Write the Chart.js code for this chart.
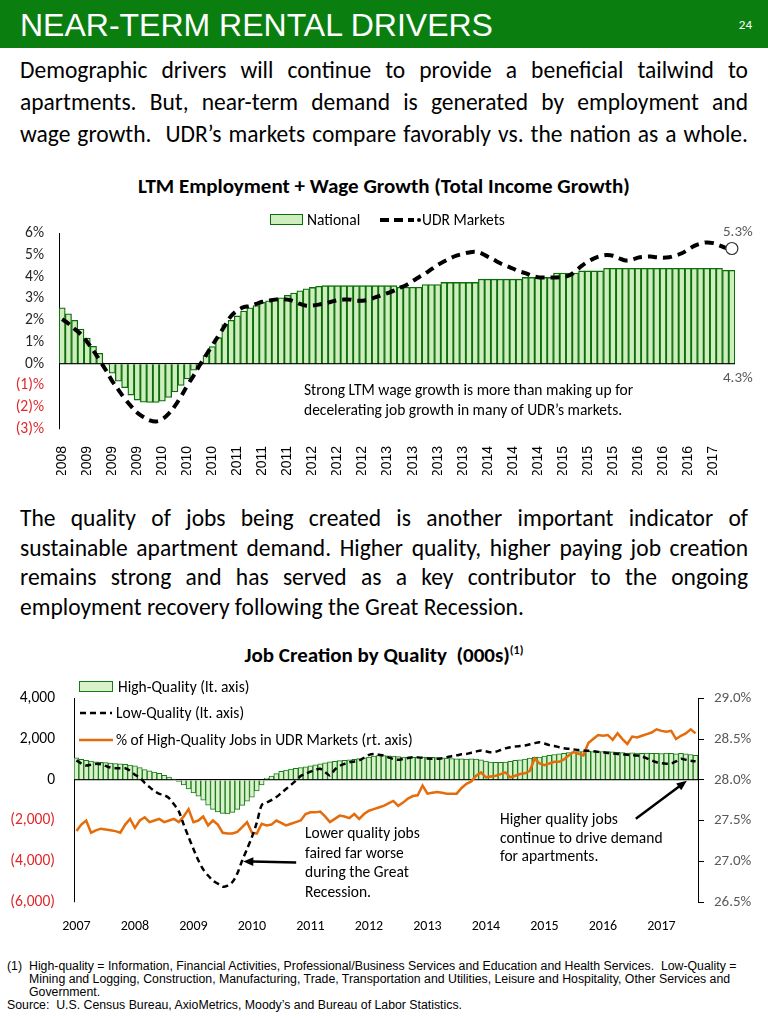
<!DOCTYPE html>
<html>
<head>
<meta charset="utf-8">
<script src="https://cdn.jsdelivr.net/npm/chart.js@4.4.1/dist/chart.umd.min.js"></script>
<style>
    body { margin: 0; width: 768px; height: 1018px; position: relative; overflow: hidden; background: #fff;
           font-family: Carlito, Lato, 'Open Sans', sans-serif; color: #000; }
    .abs { position: absolute; }
    .header { left: 0; top: 0; width: 768px; height: 48px; background: #0a7f10; }
    .header h1 { position: absolute; left: 20px; top: 7px; margin: 0; font: 32px 'Liberation Sans', Arial, sans-serif;
                 color: #fff; white-space: nowrap; }
    .header .page { position: absolute; right: 16px; top: 17px; font-size: 13px; color: #fff; }
    .para { left: 20px; width: 728px; font-size: 23.5px; }
    .para div { text-align: justify; text-align-last: justify; white-space: nowrap; }
    .para div.last { text-align-last: left; }
    .title { left: 0; width: 768px; text-align: center; font-weight: bold; font-size: 21px; }
    .note { font-size: 15.5px; white-space: nowrap; }
    .legend { font-size: 15.5px; display: flex; align-items: center; white-space: nowrap; }
    .foot { font: 12.3px 'Liberation Sans', Arial, sans-serif; line-height: 13px; color: #000; white-space: nowrap; }
</style>
</head>
<body>
<div class="abs header"><h1>NEAR-TERM RENTAL DRIVERS</h1><div class="page">24</div></div>

<div class="abs para" style="top:54px; line-height:32px;">
    <div>Demographic drivers will continue to provide a beneficial tailwind to</div>
    <div>apartments. But, near-term demand is generated by employment and</div>
    <div>wage growth.&nbsp; UDR’s markets compare favorably vs. the nation as a whole.</div>
</div>

<div class="abs title" style="top:173px;">LTM Employment + Wage Growth (Total Income Growth)</div>

<canvas id="chart-income" class="abs" width="768" height="266" style="left:0; top:209px;"></canvas>

<div class="abs legend" style="left:270px; top:210px;">
    <span style="display:inline-block; width:31px; height:9px; background:#cfeebd; border:1.5px solid #0b6e0b; margin-right:4px;"></span>National
</div>
<div class="abs legend" style="left:378px; top:210px;">
    <svg width="44" height="12"><line x1="2" y1="6" x2="36" y2="6" stroke="#000" stroke-width="4" stroke-dasharray="9,5"/><circle cx="41" cy="6" r="2" fill="#000"/></svg>UDR Markets
</div>
<div class="abs note" style="left:304px; top:380px; line-height:20px;">Strong LTM wage growth is more than making up for<br>decelerating job growth in many of UDR’s markets.</div>

<div class="abs para" style="top:504px; line-height:29.5px;">
    <div>The quality of jobs being created is another important indicator of</div>
    <div>sustainable apartment demand. Higher quality, higher paying job creation</div>
    <div>remains strong and has served as a key contributor to the ongoing</div>
    <div class="last">employment recovery following the Great Recession.</div>
</div>

<div class="abs title" style="top:642px;">Job Creation by Quality&nbsp; (000s)<sup style="font-size:12px;">(1)</sup></div>

<canvas id="chart-jobs" class="abs" width="768" height="265" style="left:0; top:670px;"></canvas>

<div class="abs legend" style="left:79px; top:677px;">
    <span style="display:inline-block; width:32px; height:9px; background:#d9f2cc; border:1px solid #167a16; margin-right:5px;"></span>High-Quality (lt. axis)
</div>
<div class="abs legend" style="left:79px; top:703px;">
    <svg width="37" height="10"><line x1="1" y1="5" x2="33" y2="5" stroke="#000" stroke-width="2.5" stroke-dasharray="6,4"/></svg>Low-Quality (lt. axis)
</div>
<div class="abs legend" style="left:79px; top:730px;">
    <svg width="37" height="10"><line x1="0" y1="5" x2="34" y2="5" stroke="#e46c0a" stroke-width="2.5"/></svg>% of High-Quality Jobs in UDR Markets (rt. axis)
</div>
<div class="abs note" style="left:305px; top:823px; line-height:19.5px;">Lower quality jobs<br>faired far worse<br>during the Great<br>Recession.</div>
<div class="abs note" style="left:500px; top:810px; line-height:18.7px;">Higher quality jobs<br>continue to drive demand<br>for apartments.</div>

<div class="abs foot" style="left:7px; top:960px;">(1)</div>
<div class="abs foot" style="left:29px; top:960px;">High-quality = Information, Financial Activities, Professional/Business Services and Education and Health Services.&nbsp; Low-Quality =<br>Mining and Logging, Construction, Manufacturing, Trade, Transportation and Utilities, Leisure and Hospitality, Other Services and<br>Government.</div>
<div class="abs foot" style="left:7px; top:999px;">Source:&nbsp; U.S. Census Bureau, AxioMetrics, Moody’s and Bureau of Labor Statistics.</div>

<script>
// Chart 1: LTM Employment + Wage Growth, one tick label every 4 bars
const incomeTickYears = ['2008', '2009', '2009', '2009', '2010', '2010', '2010', '2011', '2011', '2011',
    '2012', '2012', '2012', '2013', '2013', '2013', '2013', '2014', '2014', '2014',
    '2015', '2015', '2015', '2016', '2016', '2016', '2017'];

// National (%)
const nationalGrowth = [
    2.57, 2.30, 2.00, 1.60, 1.18, 0.80, 0.48, -0.05,
    -0.43, -0.80, -1.10, -1.44, -1.67, -1.77, -1.78, -1.78, -1.72, -1.55, -1.30, -1.00, -0.70, -0.30, -0.05,
    0.38, 0.79, 1.20, 1.80, 2.00, 2.20, 2.42, 2.57, 2.68, 2.83, 2.90, 2.98, 3.03, 3.15, 3.25, 3.36, 3.45, 3.51, 3.56,
    3.59, 3.59, 3.59, 3.59, 3.59, 3.59, 3.59, 3.59, 3.59, 3.59, 3.59, 3.59,
    3.52, 3.52, 3.52, 3.52, 3.64, 3.64, 3.64,
    3.74, 3.74, 3.74, 3.74, 3.74, 3.74,
    3.89, 3.89, 3.89, 3.89, 3.89, 3.89, 3.89,
    3.97, 3.97, 3.97, 3.97, 3.97,
    4.17, 4.17, 4.17, 4.17, 4.27, 4.27, 4.27, 4.27,
    4.39, 4.39, 4.39, 4.39, 4.39, 4.39, 4.39, 4.39, 4.39, 4.39,
    4.39, 4.39, 4.39, 4.39, 4.39, 4.39, 4.39, 4.39, 4.39,
    4.30, 4.30
];

// UDR Markets (%)
const udrGrowth = [
    2.05, 1.85, 1.60, 1.35, 1.00, 0.60, 0.15, -0.30, -0.80, -1.20,
    -1.60, -1.95, -2.25, -2.45, -2.60, -2.65, -2.55, -2.30, -1.95, -1.50,
    -1.00, -0.55, -0.05, 0.40, 0.85, 1.30, 1.75, 2.20, 2.45, 2.60,
    2.65, 2.75, 2.85, 2.90, 2.95, 2.97, 2.95, 2.88, 2.75, 2.67,
    2.68, 2.72, 2.78, 2.85, 2.92, 2.95, 2.95, 2.90, 2.90, 2.95,
    3.05, 3.15, 3.25, 3.36, 3.50, 3.62, 3.80, 3.98, 4.15, 4.35,
    4.55, 4.70, 4.85, 4.97, 5.05, 5.12, 5.15, 5.08, 4.92, 4.78,
    4.62, 4.50, 4.38, 4.25, 4.17, 4.05, 3.98, 3.97, 3.97, 3.97,
    4.00, 4.06, 4.25, 4.50, 4.70, 4.85, 4.95, 5.00, 4.97, 4.85,
    4.75, 4.78, 4.88, 4.92, 4.93, 4.90, 4.88, 4.90, 4.98, 5.08,
    5.25, 5.42, 5.53, 5.58, 5.55, 5.45, 5.33, 5.30
];

// Chart 2: Job creation by quality, monthly Jan 2007 - Aug 2017
const jobTickYears = ['2007', '2008', '2009', '2010', '2011', '2012', '2013', '2014', '2015', '2016', '2017'];

// High-Quality (000s, left axis)
const hqJobs = [
    1080, 1000, 950, 920, 880, 860, 840, 820, 800, 780, 760, 720,
    680, 600, 500, 440, 380, 320, 220, 130, 30, -80, -250, -450,
    -650, -800, -1000, -1250, -1450, -1580, -1650, -1670, -1600, -1450, -1260, -1050,
    -850, -550, -250, 80, 180, 300, 420, 480, 530, 560, 600, 640,
    680, 730, 780, 830, 880, 910, 940, 960, 980, 1000, 1040, 1080,
    1120, 1160, 1190, 1190, 1180, 1160, 1140, 1120, 1110, 1100, 1110, 1120,
    1110, 1100, 1090, 1080, 1060, 1040, 1030, 1030, 1020, 1030, 1020, 980,
    920, 870, 860, 860, 870, 900, 950, 980, 1020, 1060, 1100, 1120,
    1160, 1200, 1240, 1270, 1300, 1340, 1370, 1390, 1390, 1400, 1390, 1380,
    1390, 1380, 1370, 1350, 1330, 1310, 1320, 1310, 1300, 1310, 1300, 1300,
    1290, 1310, 1300, 1280, 1300, 1270, 1240, 1200
];

// Low-Quality (000s, left axis)
const lqJobs = [
    950, 800, 700, 740, 780, 760, 680, 600, 570, 570, 570, 450,
    250, 100, -150, -360, -550, -690, -750, -900, -1200, -1550, -2200, -2810,
    -3400, -3950, -4400, -4700, -4950, -5100, -5250, -5200, -5020, -4600, -3960, -3400,
    -2810, -2100, -1250, -1120, -1000, -850, -650, -450, -250, -50, 180, 300,
    400, 480, 540, 380, 210, 500, 680, 780, 860, 900, 950, 1080,
    1220, 1270, 1230, 1190, 1100, 1020, 980, 1020, 1070, 1110, 1100, 1080,
    1050, 1030, 1030, 1060, 1110, 1160, 1200, 1250, 1270, 1330, 1390, 1440,
    1400, 1350, 1380, 1460, 1540, 1600, 1630, 1660, 1680, 1740, 1800, 1840,
    1780, 1700, 1660, 1600, 1550, 1520, 1490, 1460, 1440, 1420, 1400, 1370,
    1350, 1320, 1290, 1270, 1250, 1230, 1210, 1190, 1150, 1050, 950, 860,
    820, 790, 800, 900, 1030, 980, 930, 910
];

// % of High-Quality Jobs in UDR Markets (right axis)
const hqShare = [
    27.37, 27.45, 27.50, 27.35, 27.38, 27.40, 27.39, 27.38, 27.37, 27.35, 27.45, 27.52,
    27.41, 27.50, 27.54, 27.48, 27.50, 27.52, 27.48, 27.50, 27.52, 27.48, 27.55, 27.64,
    27.48, 27.50, 27.55, 27.44, 27.50, 27.45, 27.35, 27.34, 27.34, 27.36, 27.42, 27.48,
    27.35, 27.34, 27.46, 27.44, 27.45, 27.50, 27.47, 27.44, 27.46, 27.48, 27.50, 27.58,
    27.60, 27.60, 27.61, 27.55, 27.48, 27.52, 27.56, 27.55, 27.53, 27.58, 27.52, 27.58,
    27.62, 27.64, 27.66, 27.68, 27.71, 27.74, 27.68, 27.72, 27.77, 27.80, 27.81, 27.93,
    27.83, 27.84, 27.85, 27.84, 27.83, 27.83, 27.83, 27.90, 27.95, 27.98, 28.05, 28.09,
    28.03, 28.04, 28.05, 28.07, 28.09, 28.03, 28.05, 28.07, 28.08, 28.11, 28.26, 28.20,
    28.18, 28.20, 28.22, 28.22, 28.25, 28.30, 28.34, 28.32, 28.30, 28.45, 28.50, 28.55,
    28.54, 28.55, 28.49, 28.57, 28.50, 28.44, 28.53, 28.52, 28.54, 28.56, 28.58, 28.62,
    28.60, 28.59, 28.60, 28.50, 28.54, 28.57, 28.62, 28.57
];

Chart.defaults.font.family = "Carlito, Lato, 'Open Sans', sans-serif";
Chart.defaults.color = '#262626';
Chart.defaults.animation = false;

const red = '#e0262b';

// Beschriftung der Endwerte (5.3% / 4.3%)
const endLabels = {
    id: 'endLabels',
    afterDatasetsDraw(chart) {
        const ctx = chart.ctx;
        const bars = chart.getDatasetMeta(0).data;
        const pts = chart.getDatasetMeta(1).data;
        const lastBar = bars[bars.length - 1];
        const lastPt = pts[pts.length - 1];
        ctx.save();
        ctx.font = '15px Carlito, Lato, sans-serif';
        ctx.fillStyle = '#595959';
        ctx.textAlign = 'center';
        ctx.textBaseline = 'bottom';
        ctx.fillText(udrGrowth[udrGrowth.length - 1].toFixed(1) + '%', lastPt.x + 6, lastPt.y - 9);
        ctx.textBaseline = 'top';
        ctx.fillText(nationalGrowth[nationalGrowth.length - 1].toFixed(1) + '%', lastBar.x + 6, lastBar.base + 8);
        ctx.restore();
    }
};

function drawArrow(ctx, x1, y1, x2, y2) {
    const ang = Math.atan2(y2 - y1, x2 - x1);
    const len = 11;
    ctx.beginPath();
    ctx.moveTo(x1, y1);
    ctx.lineTo(x2 - Math.cos(ang) * len * 0.8, y2 - Math.sin(ang) * len * 0.8);
    ctx.stroke();
    ctx.beginPath();
    ctx.moveTo(x2, y2);
    ctx.lineTo(x2 - len * Math.cos(ang - 0.4), y2 - len * Math.sin(ang - 0.4));
    ctx.lineTo(x2 - len * Math.cos(ang + 0.4), y2 - len * Math.sin(ang + 0.4));
    ctx.closePath();
    ctx.fill();
}

// Pfeile zu den Anmerkungen
const jobArrows = {
    id: 'jobArrows',
    afterDatasetsDraw(chart) {
        const ctx = chart.ctx;
        const x = chart.scales.x, y = chart.scales.y;
        ctx.save();
        ctx.strokeStyle = '#000';
        ctx.fillStyle = '#000';
        ctx.lineWidth = 2.5;
        const ax = x.getPixelForValue(34), ay = y.getPixelForValue(lqJobs[34]);
        drawArrow(ctx, ax + 54, ay + 2, ax + 1, ay + 1);
        const bx = x.getPixelForValue(125), by = y.getPixelForValue(0);
        drawArrow(ctx, bx - 50, by + 39, bx + 1, by + 1);
        ctx.restore();
    }
};

new Chart(document.getElementById('chart-income'), {
    type: 'bar',
    data: {
        labels: incomeTickYears.flatMap(y => [y, '', '', '']),
        datasets: [{
            type: 'bar',
            data: nationalGrowth,
            backgroundColor: '#cfeebd',
            borderColor: '#0b6e0b',
            borderWidth: 1.3,
            barPercentage: 1,
            categoryPercentage: 1,
            order: 2,
        }, {
            type: 'line',
            data: udrGrowth,
            borderColor: '#000',
            borderWidth: 4,
            borderDash: [9, 6],
            tension: 0.4,
            fill: false,
            pointRadius: ctx => ctx.dataIndex === udrGrowth.length - 1 ? 6 : 0,
            pointBackgroundColor: '#fff',
            pointBorderColor: '#333',
            pointBorderWidth: 1.2,
            order: 1,
        }],
    },
    options: {
        responsive: false,
        layout: { padding: { top: 0, right: 33, left: 0, bottom: 0 } },
        plugins: { legend: { display: false }, tooltip: { enabled: false } },
        scales: {
            x: {
                grid: { display: false },
                border: { display: false },
                ticks: {
                    autoSkip: false, maxRotation: 90, minRotation: 90, padding: 9,
                    color: '#000', font: { size: 14, family: "'Liberation Sans', Arial, sans-serif" },
                    callback: (v, i) => i % 4 === 0 ? incomeTickYears[i / 4] : '',
                },
                afterFit: a => { a.height = 46; },
            },
            y: {
                min: -3, max: 6,
                border: { display: true, color: '#000', width: 1 },
                grid: {
                    drawTicks: false,
                    color: ctx => ctx.tick && ctx.tick.value === 0 ? '#000' : 'rgba(0,0,0,0)',
                    lineWidth: 1.2,
                },
                ticks: {
                    stepSize: 1, padding: 15,
                    font: { size: 15.5 },
                    color: ctx => ctx.tick.value < 0 ? red : '#262626',
                    callback: v => v < 0 ? '(' + (-v) + ')%' : v + '%',
                },
                afterFit: a => { a.width = 59; },
            },
        },
    },
    plugins: [endLabels],
});

new Chart(document.getElementById('chart-jobs'), {
    type: 'bar',
    data: {
        labels: jobTickYears.flatMap(y => [y, '', '', '', '', '', '', '', '', '', '', '']).slice(0, hqJobs.length),
        datasets: [{
            type: 'bar',
            data: hqJobs,
            yAxisID: 'y',
            backgroundColor: '#d9f2cc',
            borderColor: '#167a16',
            borderWidth: 1,
            barPercentage: 1,
            categoryPercentage: 1,
            order: 3,
        }, {
            type: 'line',
            data: lqJobs,
            yAxisID: 'y',
            borderColor: '#000',
            borderWidth: 2.5,
            borderDash: [6, 4],
            tension: 0.3,
            pointRadius: 0,
            order: 1,
        }, {
            type: 'line',
            data: hqShare,
            yAxisID: 'y1',
            borderColor: '#e46c0a',
            borderWidth: 2.5,
            tension: 0,
            pointRadius: 0,
            order: 2,
        }],
    },
    options: {
        responsive: false,
        layout: { padding: { top: 0, right: 0, left: 0, bottom: 0 } },
        plugins: { legend: { display: false }, tooltip: { enabled: false } },
        scales: {
            x: {
                grid: { display: false },
                border: { display: false },
                ticks: {
                    autoSkip: false, maxRotation: 0, minRotation: 0, padding: 8,
                    color: '#000', font: { size: 14 },
                    callback: (v, i) => i % 12 === 0 ? jobTickYears[i / 12] : '',
                },
                afterFit: a => { a.height = 33; },
            },
            y: {
                position: 'left',
                min: -6000, max: 4000,
                border: { display: true, color: '#000', width: 1 },
                grid: {
                    drawTicks: false,
                    color: ctx => ctx.tick && ctx.tick.value === 0 ? '#000' : 'rgba(0,0,0,0)',
                    lineWidth: 1.2,
                },
                ticks: {
                    stepSize: 2000, padding: 19,
                    font: { size: 15.5 },
                    color: ctx => ctx.tick.value < 0 ? red : '#000',
                    callback: v => v < 0 ? '(' + Math.abs(v).toLocaleString('en-US') + ')' : v.toLocaleString('en-US'),
                },
                afterFit: a => { a.width = 74; },
            },
            y1: {
                position: 'right',
                min: 26.5, max: 29,
                border: { display: true, color: '#000', width: 1 },
                grid: { drawOnChartArea: false, drawTicks: true, tickLength: 6, color: '#000' },
                ticks: {
                    stepSize: 0.5, padding: 10,
                    font: { size: 15 }, color: '#595959',
                    callback: v => v.toFixed(1) + '%',
                },
                afterFit: a => { a.width = 70; },
            },
        },
    },
    plugins: [jobArrows],
});
</script>
</body>
</html>
